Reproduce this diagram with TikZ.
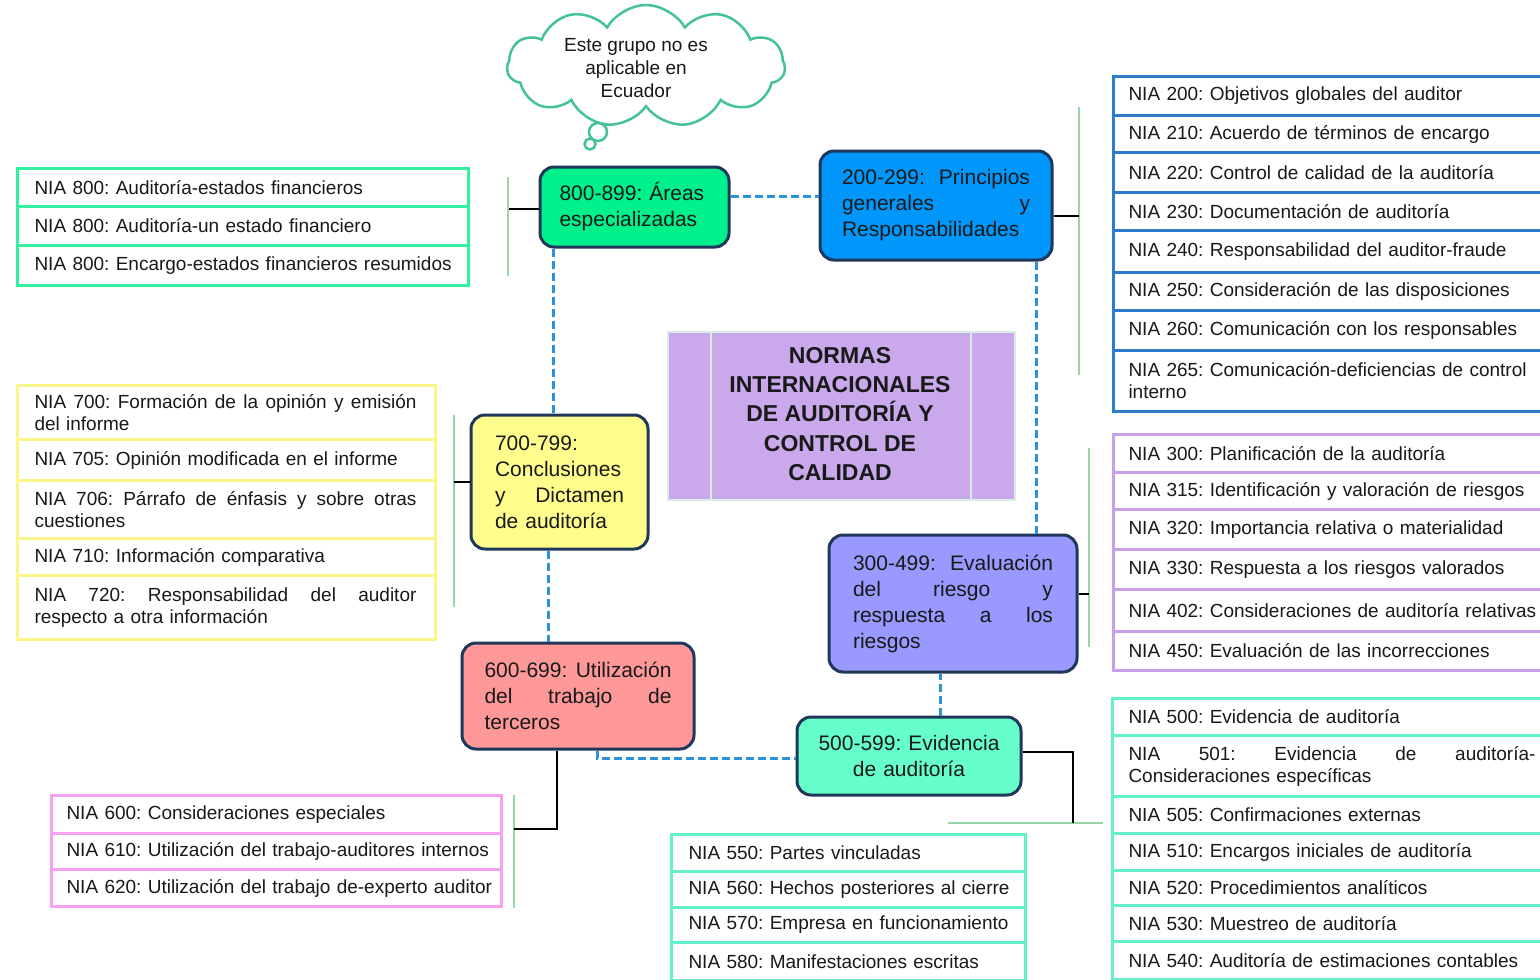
\documentclass[tikz,border=0pt]{standalone}
\usepackage{fontspec}
\setmainfont{Liberation Sans}
\usetikzlibrary{shapes.symbols}
\definecolor{navy}{RGB}{31,56,90}
\definecolor{txt}{RGB}{25,25,25}
\definecolor{c800}{RGB}{0,240,140}
\definecolor{c200}{RGB}{0,150,250}
\definecolor{c700}{RGB}{255,253,140}
\definecolor{c300}{RGB}{153,153,255}
\definecolor{c600}{RGB}{255,153,153}
\definecolor{c500}{RGB}{102,255,204}
\definecolor{lav}{RGB}{202,168,236}
\definecolor{lavline}{RGB}{218,236,230}
\definecolor{lgreen}{RGB}{50,240,160}
\definecolor{lblue}{RGB}{46,125,205}
\definecolor{lpurple}{RGB}{200,160,232}
\definecolor{lteal}{RGB}{100,240,200}
\definecolor{lyellow}{RGB}{250,246,140}
\definecolor{lpink}{RGB}{245,160,240}
\definecolor{cloudc}{RGB}{70,195,150}
\definecolor{brgreen}{RGB}{150,215,165}
\definecolor{dashblue}{RGB}{45,145,220}
\newcommand\lrowm[8]{%
  \pgfmathsetmacro\lrW{#5-#3}%
  \pgfmathsetmacro\lrH{#6-#4}%
  \pgfmathsetmacro\lrT{#5-#3-2*#7}%
  \node[lrowbox, draw=#2, minimum width=\lrW pt, minimum height=\lrH pt,
        text width=\lrT pt, inner xsep=#7pt, anchor=north west] (#1) at (#3,#4) {#8};}
\newcommand\lrow[8]{\lrowm{#1}{#2}{#3}{#4}{#5}{#6}{#7}{\mbox{#8}}}
\newcommand\jst[2]{\leavevmode\hbox to #1pt{\spaceskip=0.278em plus 1fil\relax #2}}
\begin{document}
\frenchspacing
\begin{tikzpicture}[x=1pt,y=-1pt,
  lrowbox/.style={line width=3pt, fill=white, inner ysep=0pt, align=left,
    text=txt, font=\fontsize{19}{22}\selectfont},
  hub/.style={draw=navy, line width=3pt, rounded corners=14pt, inner sep=0pt,
    align=left, text=txt, font=\fontsize{21}{26}\selectfont},
  dsh/.style={draw=dashblue, line width=3pt, dash pattern=on 8pt off 4pt},
  blk/.style={draw=black, line width=1.5pt},
  gbr/.style={draw=brgreen, line width=1.3pt}]
\useasboundingbox (0,0) rectangle (1540,980);
\fill[white] (0,0) rectangle (1540,980);

% ---------- cloud ----------
\node[cloud, cloud puffs=11, cloud puff arc=120, aspect=2.2, draw=cloudc,
      line width=2.5pt, fill=white, minimum width=278pt, minimum height=122pt,
      inner sep=0pt] (cloud) at (646,66) {};
\node[circle, draw=cloudc, line width=2.5pt, fill=white, minimum size=18pt,
      inner sep=0pt] (tail1) at (598,132) {};
\node[circle, draw=cloudc, line width=2.5pt, fill=white, minimum size=11pt,
      inner sep=0pt] (tail2) at (590,144) {};
\node[align=center, text=txt, font=\fontsize{19}{23}\selectfont] (cloudtxt)
      at (636,68) {Este grupo no es\\aplicable en\\Ecuador};

% ---------- hub boxes ----------
\node[hub, fill=c800, minimum width=189pt, minimum height=80pt, text width=150pt]
  (b800) at (634.5,207) {\mbox{800-899: Áreas}\\\mbox{especializadas}};
\node[hub, fill=c200, minimum width=232pt, minimum height=109pt, text width=188pt]
  (b200) at (936,205.5) {\jst{188}{200-299: Principios}\\\jst{188}{generales y}\\\mbox{Responsabilidades}};
\node[hub, fill=c700, minimum width=177pt, minimum height=134pt, text width=129pt]
  (b700) at (559.5,482) {\mbox{700-799:}\\\mbox{Conclusiones}\\\jst{129}{y Dictamen}\\\mbox{de auditoría}};
\node[hub, fill=c300, minimum width=248pt, minimum height=137pt, text width=200pt]
  (b300) at (953,603.5) {\jst{200}{300-499: Evaluación}\\\jst{200}{del riesgo y}\\\jst{200}{respuesta a los}\\\mbox{riesgos}};
\node[hub, fill=c600, minimum width=232pt, minimum height=106pt, text width=187pt]
  (b600) at (578,696) {\jst{187}{600-699: Utilización}\\\jst{187}{del trabajo de}\\\mbox{terceros}};
\node[hub, fill=c500, minimum width=224pt, minimum height=78pt, text width=200pt,
      align=center] (b500) at (909,756) {500-599: Evidencia\\de auditoría};

% ---------- title ----------
\node[draw=lavline, line width=2pt, fill=lav, minimum width=347pt,
      minimum height=168pt] (title) at (841.5,416) {};
\coordinate (dv1) at (711,416);
\coordinate (dv2) at (971,416);
\draw[lavline, line width=2pt] (title.north -| dv1) -- (title.south -| dv1);
\draw[lavline, line width=2pt] (title.north -| dv2) -- (title.south -| dv2);
\node[align=center, text=txt, font=\bfseries\fontsize{23}{29.2}\selectfont]
  (ttext) at (840,414) {NORMAS\\INTERNACIONALES\\DE AUDITORÍA Y\\CONTROL DE\\CALIDAD};

% ---------- dashed connectors ----------
\coordinate (dy1) at (700,196);
\coordinate (dx1) at (553,300);
\coordinate (dx2) at (548,600);
\coordinate (dx3) at (597,758);
\coordinate (dx4) at (940,700);
\coordinate (dx5) at (1036,400);
\draw[dsh] (b800.east |- dy1) -- (b200.west |- dy1);
\draw[dsh] (b800.south -| dx1) -- (b700.north -| dx1);
\draw[dsh] (b700.south -| dx2) -- (b600.north -| dx2);
\draw[dsh] (b600.south -| dx3) -- (dx3) -- (b500.west |- dx3);
\draw[dsh] (b500.north -| dx4) -- (b300.south -| dx4);
\draw[dsh] (b300.north -| dx5) -- (b200.south -| dx5);

% ---------- lists ----------
% 800s
\lrow{r801}{lgreen}{16}{167}{467}{205}{17}{NIA 800: Auditoría-estados financieros}
\lrow{r802}{lgreen}{16}{205}{467}{244}{17}{NIA 800: Auditoría-un estado financiero}
\lrow{r803}{lgreen}{16}{244}{467}{284}{17}{NIA 800: Encargo-estados financieros resumidos}
% 200s
\lrow{r200}{lblue}{1112}{75}{1560}{114}{15}{NIA 200: Objetivos globales del auditor}
\lrow{r210}{lblue}{1112}{114}{1560}{151}{15}{NIA 210: Acuerdo de términos de encargo}
\lrow{r220}{lblue}{1112}{151}{1560}{191}{15}{NIA 220: Control de calidad de la auditoría}
\lrow{r230}{lblue}{1112}{191}{1560}{229}{15}{NIA 230: Documentación de auditoría}
\lrow{r240}{lblue}{1112}{229}{1560}{271}{15}{NIA 240: Responsabilidad del auditor-fraude}
\lrow{r250}{lblue}{1112}{271}{1560}{309}{15}{NIA 250: Consideración de las disposiciones}
\lrow{r260}{lblue}{1112}{309}{1560}{349}{15}{NIA 260: Comunicación con los responsables}
\lrowm{r265}{lblue}{1112}{349}{1560}{410}{15}{\mbox{NIA 265: Comunicación-deficiencias de control}\\\mbox{interno}}
% 300s
\lrow{r300}{lpurple}{1112}{433}{1560}{471}{15}{NIA 300: Planificación de la auditoría}
\lrow{r315}{lpurple}{1112}{471}{1560}{508}{15}{NIA 315: Identificación y valoración de riesgos}
\lrow{r320}{lpurple}{1112}{508}{1560}{548}{15}{NIA 320: Importancia relativa o materialidad}
\lrow{r330}{lpurple}{1112}{548}{1560}{588}{15}{NIA 330: Respuesta a los riesgos valorados}
\lrow{r402}{lpurple}{1112}{588}{1560}{630}{15}{NIA 402: Consideraciones de auditoría relativas}
\lrow{r450}{lpurple}{1112}{630}{1560}{669}{15}{NIA 450: Evaluación de las incorrecciones}
% 500s
\lrow{r500}{lteal}{1111}{697}{1552}{734}{16}{NIA 500: Evidencia de auditoría}
\lrowm{r501}{lteal}{1111}{734}{1552}{795}{16}{\jst{407}{NIA 501: Evidencia de auditoría-}\\\mbox{Consideraciones específicas}}
\lrow{r505}{lteal}{1111}{795}{1552}{832}{16}{NIA 505: Confirmaciones externas}
\lrow{r510}{lteal}{1111}{832}{1552}{869}{16}{NIA 510: Encargos iniciales de auditoría}
\lrow{r520}{lteal}{1111}{869}{1552}{904}{16}{NIA 520: Procedimientos analíticos}
\lrow{r530}{lteal}{1111}{904}{1552}{940}{16}{NIA 530: Muestreo de auditoría}
\lrow{r540}{lteal}{1111}{940}{1552}{978}{16}{NIA 540: Auditoría de estimaciones contables}
% 550s
\lrow{r550}{lteal}{670}{833}{1024}{870}{17}{NIA 550: Partes vinculadas}
\lrow{r560}{lteal}{670}{870}{1024}{906}{17}{NIA 560: Hechos posteriores al cierre}
\lrow{r570}{lteal}{670}{906}{1024}{941}{17}{NIA 570: Empresa en funcionamiento}
\lrow{r580}{lteal}{670}{941}{1024}{979}{17}{NIA 580: Manifestaciones escritas}
% 700s
\lrowm{r700}{lyellow}{16}{384}{434}{438}{17}{\jst{382}{NIA 700: Formación de la opinión y emisión}\\\mbox{del informe}}
\lrow{r705}{lyellow}{16}{438}{434}{479}{17}{NIA 705: Opinión modificada en el informe}
\lrowm{r706}{lyellow}{16}{479}{434}{537}{17}{\jst{382}{NIA 706: Párrafo de énfasis y sobre otras}\\\mbox{cuestiones}}
\lrow{r710}{lyellow}{16}{537}{434}{574}{17}{NIA 710: Información comparativa}
\lrowm{r720}{lyellow}{16}{574}{434}{638}{17}{\jst{382}{NIA 720: Responsabilidad del auditor}\\\mbox{respecto a otra información}}
% 600s
\lrow{r600}{lpink}{50}{794}{500}{832}{15}{NIA 600: Consideraciones especiales}
\lrow{r610}{lpink}{50}{832}{500}{868}{15}{NIA 610: Utilización del trabajo-auditores internos}
\lrow{r620}{lpink}{50}{868}{500}{905}{15}{NIA 620: Utilización del trabajo de-experto auditor}

% ---------- brackets (green) ----------
\coordinate (g800a) at (508,177); \coordinate (g800b) at (508,276);
\coordinate (g200a) at (1079,107); \coordinate (g200b) at (1079,375);
\coordinate (g300a) at (1089,448); \coordinate (g300b) at (1089,647);
\coordinate (g700a) at (454,415); \coordinate (g700b) at (454,607);
\coordinate (g600a) at (514,795); \coordinate (g600b) at (514,908);
\coordinate (g500a) at (948,823); \coordinate (g500b) at (1103,823);
\draw[gbr] (g800a) -- (g800b);
\draw[gbr] (g200a) -- (g200b);
\draw[gbr] (g300a) -- (g300b);
\draw[gbr] (g700a) -- (g700b);
\draw[gbr] (g600a) -- (g600b);
\draw[gbr] (g500a) -- (g500b);

% ---------- black connectors ----------
\coordinate (k800) at (509,209);
\coordinate (k200) at (1079,216);
\coordinate (k300) at (1089,594);
\coordinate (k700) at (454,482);
\coordinate (k600a) at (557,829); \coordinate (k600b) at (514,829);
\coordinate (k500a) at (1073,752); \coordinate (k500b) at (1073,823);
\draw[blk] (b800.west |- k800) -- (k800);
\draw[blk] (b200.east |- k200) -- (k200);
\draw[blk] (b300.east |- k300) -- (k300);
\draw[blk] (b700.west |- k700) -- (k700);
\draw[blk] (b600.south -| k600a) -- (k600a) -- (k600b);
\draw[blk] (b500.east |- k500a) -- (k500a) -- (k500b);
\end{tikzpicture}
\end{document}
